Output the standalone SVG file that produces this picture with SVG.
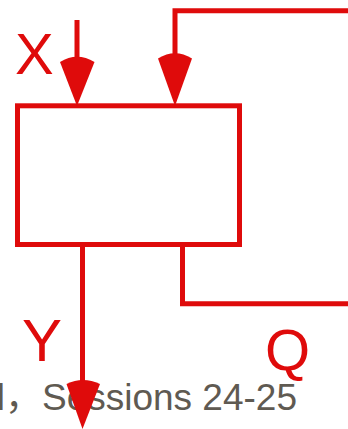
<svg xmlns="http://www.w3.org/2000/svg" width="348" height="429" viewBox="0 0 348 429">
<style>
.w{fill:none;stroke:#df0b0b;stroke-width:5}
.h{fill:#df0b0b;stroke:none}
.lbl{font-family:"Liberation Sans",Arial,sans-serif;fill:#df0b0b}
.foot{font-family:"Liberation Sans","Noto Sans CJK SC",Arial,sans-serif;fill:#5f5a52;font-size:37px}
</style>
<rect width="348" height="429" fill="#ffffff"/>
<text class="foot" x="297" y="410" text-anchor="end">l，Sessions 24-25</text>
<g id="block">
<rect class="w" x="17.5" y="105.8" width="222" height="138.7"/>
</g>
<g id="labels">
<text class="lbl" x="15" y="74" font-size="58">X</text>
<text class="lbl" x="22" y="361" font-size="60">Y</text>
<text class="lbl" x="265" y="370" font-size="58">Q</text>
</g>
<g id="connectors">
<path class="w" d="M77,20 V62"/>
<path class="h" d="M60,62 Q77,51.5 94.5,62 L77,106 Z"/>
<path class="w" d="M348,10.8 H175 V60"/>
<path class="h" d="M158,58.5 Q175,48 192,58.5 L175,106 Z"/>
<path class="w" d="M82.5,244 V386"/>
<path class="h" d="M66.5,384 Q83,376 100,384 L82.5,429 Z"/>
<path class="w" d="M182.5,244 V303.7 H348"/>
</g>
</svg>
